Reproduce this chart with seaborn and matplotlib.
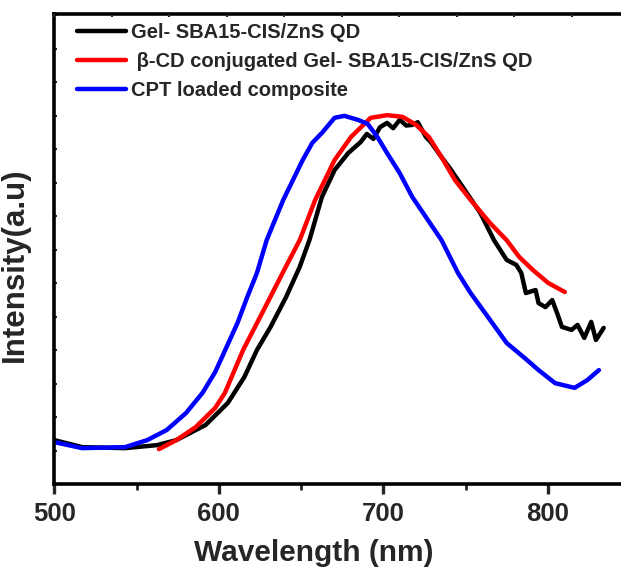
import numpy as np
import pandas as pd
import matplotlib
matplotlib.use("Agg")
import matplotlib.pyplot as plt
import seaborn as sns
from matplotlib.lines import Line2D

# ---- data (wavelength nm, intensity a.u.) ----
gel_wl = [500, 517, 543, 562.4, 574.2, 586.0, 591.9, 605.5, 615.5, 623.2, 631.5, 640.9,
          649.2, 655.1, 662.7, 670.4, 678.7, 686.3, 690.0, 694.0, 698.0, 702.3, 706.0,
          710.0, 714.0, 717.6, 721.0, 725.9, 729.0, 733.6, 741.3, 749.5, 759.0, 767.3,
          775.0, 780.9, 783.9, 786.7, 792.6, 794.4, 798.6, 802.7, 805.7, 808.6, 814.5,
          818.1, 822.2, 826.4, 829.3, 834.0]
gel_I = [1.31, 1.10, 1.07, 1.16, 1.31, 1.61, 1.76, 2.42, 3.19, 4.00, 4.69, 5.58,
         6.48, 7.28, 8.57, 9.37, 9.88, 10.21, 10.45, 10.30, 10.65, 10.78, 10.62,
         10.87, 10.70, 10.72, 10.80, 10.36, 10.20, 9.88, 9.37, 8.78, 8.09, 7.28,
         6.69, 6.54, 6.30, 5.70, 5.79, 5.40, 5.28, 5.49, 5.10, 4.69, 4.60,
         4.75, 4.36, 4.84, 4.30, 4.66]

bcd_wl = [563.6, 574.2, 586.0, 597.8, 603.7, 614.8, 628.2, 640.7, 649.2, 658.6, 670.4,
          680.4, 692.3, 702.3, 711.7, 720.0, 727.7, 735.4, 743.6, 753.1, 764.9, 775.0,
          782.6, 790.9, 800.3, 810.4]
bcd_I = [1.04, 1.31, 1.70, 2.27, 2.72, 4.00, 5.28, 6.48, 7.28, 8.48, 9.67,
         10.36, 10.93, 11.01, 10.96, 10.72, 10.36, 9.76, 9.07, 8.48, 7.79, 7.28,
         6.78, 6.39, 6.00, 5.73]

cpt_wl = [500, 517, 543, 556.5, 568.3, 580.1, 590.1, 597.8, 611.4, 617.3, 623.2, 629.1,
          639.2, 651.0, 656.8, 662.7, 670.4, 676.3, 684.6, 690.5, 696.4, 702.3, 710.0,
          717.6, 725.9, 735.4, 745.4, 753.1, 764.9, 775.0, 786.7, 794.4, 804.5, 816.3,
          824.0, 831.1]
cpt_I = [1.25, 1.07, 1.10, 1.31, 1.61, 2.12, 2.72, 3.34, 4.81, 5.58, 6.30, 7.28,
         8.48, 9.67, 10.18, 10.48, 10.93, 10.99, 10.87, 10.75, 10.36, 9.88, 9.28,
         8.57, 7.97, 7.28, 6.30, 5.70, 4.90, 4.21, 3.73, 3.40, 3.01, 2.87,
         3.10, 3.40]

labels = ["Gel- SBA15-CIS/ZnS QD",
          " \u03b2-CD conjugated Gel- SBA15-CIS/ZnS QD",
          "CPT loaded composite"]
colors = ["#000000", "#ff0000", "#0000ff"]
x_ticks = [500, 600, 700, 800]

df = pd.concat([
    pd.DataFrame({"wl": gel_wl, "I": gel_I, "series": labels[0]}),
    pd.DataFrame({"wl": bcd_wl, "I": bcd_I, "series": labels[1]}),
    pd.DataFrame({"wl": cpt_wl, "I": cpt_I, "series": labels[2]}),
], ignore_index=True)

sns.set_theme(style="ticks")
plt.rcParams["font.family"] = ["Liberation Sans", "DejaVu Sans"]
plt.rcParams["font.weight"] = "bold"

W, H = 621, 568
fig = plt.figure(figsize=(W / 100, H / 100), dpi=100)
left, right, bottom, top = 54.3, 630.0, 84.0, 554.0
ax = fig.add_axes([left / W, bottom / H, (right - left) / W, (top - bottom) / H])

sns.lineplot(data=df, x="wl", y="I", hue="series", palette=dict(zip(labels, colors)),
             estimator=None, sort=False, linewidth=3.2, ax=ax, legend=False)

ax.set_xlim(500, 500 + (right - left) / 1.694)
ax.set_ylim(0, (top - bottom) / 33.5)

for s in ax.spines.values():
    s.set_linewidth(2.6)
    s.set_color("black")

ax.set_xticks(x_ticks)
ax.set_xticklabels([str(t) for t in x_ticks], fontsize=18.5, fontweight="bold")
ax.set_xticks([550, 650, 750, 850], minor=True)
ax.tick_params(axis="x", which="major", direction="out", length=7, width=2.4, pad=6)
ax.tick_params(axis="x", which="minor", direction="out", length=4, width=2.0)
ax.set_yticks(np.arange(0, 15, 1))
ax.set_yticklabels([])
ax.tick_params(axis="y", which="major", direction="in", length=2.5, width=1.5)

ax.set_xlabel("Wavelength (nm)", fontsize=21.5, fontweight="bold")
ax.xaxis.set_label_coords((313.5 - left) / (right - left), -(539 - 484) / (top - bottom))
ax.set_ylabel("Intensity(a.u)", fontsize=22.5, fontweight="bold")
ax.yaxis.set_label_coords(-(54.3 - 30) / (right - left), (484 - 265) / (top - bottom))

twin = ax.twiny()
twin.set_xlim(0, (right - left) / 57.5)
twin.set_xticks(np.arange(0, 11, 1))
twin.set_xticklabels([])
twin.tick_params(axis="x", direction="in", length=2.5, width=1.5)
for s in twin.spines.values():
    s.set_visible(False)

handles = [Line2D([], [], color=c, lw=3.2) for c in colors]
leg = ax.legend(handles, labels, loc="upper left", frameon=False,
                bbox_to_anchor=((80 - left) / (right - left) - 0.005, 1.0 - 9 / (top - bottom)),
                borderaxespad=0, borderpad=0, handlelength=2.45, handletextpad=0.22,
                labelspacing=0.5, prop={"size": 14.5, "weight": "bold"})

fig.savefig("out.png", dpi=100)
